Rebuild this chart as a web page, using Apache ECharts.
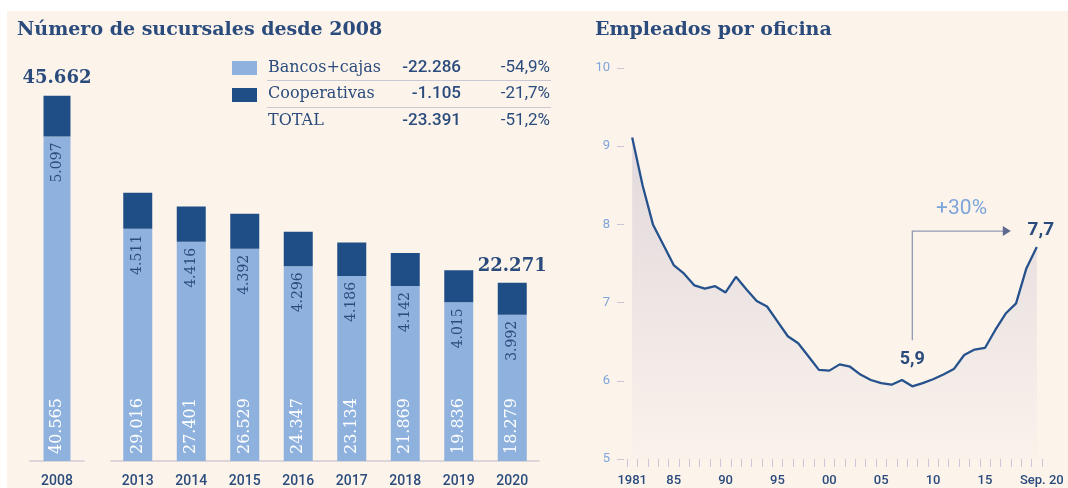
<!DOCTYPE html>
<html><head><meta charset="utf-8">
<script src="https://cdn.jsdelivr.net/npm/echarts@6/dist/echarts.min.js"></script>
<style>
html,body{margin:0;padding:0;background:#fff;width:1068px;height:488px;overflow:hidden}
#bg{position:absolute;left:7px;top:11px;right:0;bottom:0;background:#fcf4eb}
#c{position:absolute;left:0;top:0;width:1068px;height:488px}
</style></head><body><div id="bg"></div><div id="c"></div>
<script>
// ---- Data: branches (sucursales) ----
const branchYears = ['2008', '2013', '2014', '2015', '2016', '2017', '2018', '2019', '2020'];
const bancosCajas = [40565, 29016, 27401, 26529, 24347, 23134, 21869, 19836, 18279];
const cooperativas = [5097, 4511, 4416, 4392, 4296, 4186, 4142, 4015, 3992];
const totalShownYears = ['2008', '2020'];
const legendNames = ['Bancos+cajas', 'Cooperativas', 'TOTAL'];

// ---- Data: employees per office ----
const empYears = ['1981','1982','1983','1984','1985','1986','1987','1988','1989','1990',
  '1991','1992','1993','1994','1995','1996','1997','1998','1999','2000',
  '2001','2002','2003','2004','2005','2006','2007','2008','2009','2010',
  '2011','2012','2013','2014','2015','2016','2017','2018','2019','2020'];
const empleados = [9.11, 8.50, 8.00, 7.74, 7.48, 7.37, 7.22, 7.18, 7.21, 7.13,
  7.33, 7.17, 7.02, 6.95, 6.76, 6.57, 6.48, 6.31, 6.14, 6.13,
  6.21, 6.18, 6.08, 6.01, 5.97, 5.95, 6.01, 5.93, 5.97, 6.02,
  6.08, 6.15, 6.33, 6.40, 6.42, 6.65, 6.86, 6.99, 7.44, 7.71];
const empXLabels = {'1981':'1981','1985':'85','1990':'90','1995':'95','2000':'00','2005':'05','2010':'10','2015':'15','2020':'Sep. 20'};
const empYMin = 5, empYMax = 10, empYStep = 1;

// ---- helpers ----
const DARK = '#1f4e86', LIGHT = '#8fb1dd', TXT = '#2a4b7c', LTXT = '#7ea5da';
const fmtInt = n => (n < 0 ? '-' : '') + Math.abs(n).toString().replace(/\B(?=(\d{3})+(?!\d))/g, '.');
const fmtPct = x => (x * 100).toFixed(1).replace('.', ',') + '%';
const fmtDec = x => x.toFixed(1).replace('.', ',');

const totals = bancosCajas.map((b, i) => b + cooperativas[i]);
const n = branchYears.length;
const chgB = bancosCajas[n-1] - bancosCajas[0];
const chgC = cooperativas[n-1] - cooperativas[0];
const chgT = totals[n-1] - totals[0];
const legendChange = [fmtInt(chgB), fmtInt(chgC), fmtInt(chgT)];
const legendPct = [fmtPct(chgB / bancosCajas[0]), fmtPct(chgC / cooperativas[0]), fmtPct(chgT / totals[0])];

const serif = 'DejaVu Serif';
const sans = 'Roboto';

function barSeries(gi, idxs, bw) {
  return [
    { type: 'bar', xAxisIndex: gi, yAxisIndex: gi, stack: 's' + gi, barWidth: bw,
      data: idxs.map(i => bancosCajas[i]), itemStyle: { color: LIGHT },
      label: { show: true, position: 'insideBottom', rotate: 90, align: 'left', verticalAlign: 'middle',
        distance: 7, color: '#fff', fontFamily: serif, fontSize: 16, formatter: p => fmtInt(p.value) } },
    { type: 'bar', xAxisIndex: gi, yAxisIndex: gi, stack: 's' + gi, barWidth: bw,
      data: idxs.map(i => cooperativas[i]), itemStyle: { color: DARK },
      label: { show: true, position: 'bottom', rotate: 90, align: 'right', verticalAlign: 'middle',
        distance: 6, color: TXT, fontFamily: serif, fontSize: 14, formatter: p => fmtInt(p.value) } },
    { type: 'bar', xAxisIndex: gi, yAxisIndex: gi, stack: 's' + gi, barWidth: bw,
      data: idxs.map(i => totalShownYears.includes(branchYears[i]) ? 0 : null),
      itemStyle: { color: 'rgba(0,0,0,0)' },
      label: { show: true, position: 'top', distance: 8, color: TXT, fontFamily: serif, fontWeight: 'bold', fontSize: 18,
        formatter: p => p.value === null ? '' : fmtInt(totals[idxs[p.dataIndex]]) } }
  ];
}

const chart = echarts.init(document.getElementById('c'), null, { renderer: 'canvas' });
const catAxisLeft = (gi, cats) => ({
  type: 'category', gridIndex: gi, data: cats,
  axisLine: { show: true, lineStyle: { color: '#cfcad4', width: 1.5 } },
  axisTick: { show: false },
  axisLabel: { color: TXT, fontFamily: sans, fontWeight: 500, fontSize: 14, margin: 13 }
});
const valAxisLeft = gi => ({ type: 'value', gridIndex: gi, min: 0, max: 50000, show: false });

chart.setOption({
  animation: false,
  title: [
    { text: 'Número de sucursales desde 2008', left: 12, top: 16,
      textStyle: { color: TXT, fontFamily: serif, fontWeight: 'bold', fontSize: 19 } },
    { text: 'Empleados por oficina', left: 590, top: 16,
      textStyle: { color: TXT, fontFamily: serif, fontWeight: 'bold', fontSize: 19 } }
  ],
  grid: [
    { left: 30, width: 54, top: 61, height: 400 },
    { left: 111, width: 428, top: 61, height: 400 },
    { left: 627, width: 415, top: 68, height: 391 }
  ],
  xAxis: [
    catAxisLeft(0, branchYears.slice(0, 1)),
    catAxisLeft(1, branchYears.slice(1)),
    { type: 'category', gridIndex: 2, data: empYears, boundaryGap: true,
      axisLine: { show: false },
      axisTick: { show: true, interval: 0, length: 8, lineStyle: { color: '#c9c5d4', width: 1 } },
      axisLabel: { interval: 0, color: TXT, fontFamily: sans, fontWeight: 500, fontSize: 13, margin: 15,
        formatter: v => empXLabels[v] ? (v === '2020' ? '{s|' + empXLabels[v] + '}' : empXLabels[v]) : '',
        rich: { s: { color: TXT, fontFamily: sans, fontWeight: 500, fontSize: 13, padding: [0, 0, 0, 10] } } }
    }
  ],
  yAxis: [
    valAxisLeft(0), valAxisLeft(1),
    { type: 'value', gridIndex: 2, min: empYMin, max: empYMax, interval: empYStep, offset: 3,
      axisLine: { show: false }, splitLine: { show: false },
      axisTick: { show: true, length: 7, lineStyle: { color: '#c9c5d4' } },
      axisLabel: { color: LTXT, fontFamily: sans, fontSize: 13, margin: 14 } }
  ],
  series: [
    ...barSeries(0, [0], 27),
    ...barSeries(1, [1,2,3,4,5,6,7,8], 29),
    { type: 'line', xAxisIndex: 2, yAxisIndex: 2, data: empleados, symbol: 'none',
      lineStyle: { color: '#25528c', width: 2.3 },
      areaStyle: { origin: 'start', color: new echarts.graphic.LinearGradient(0, 0, 0, 1, [
        { offset: 0, color: '#d5ccd5' }, { offset: 1, color: '#f8f0ea' } ]) } }
  ]
});

// ---- Graphics: legend table + annotations ----
const g = [];
const rowY = [68, 94, 121];
g.push({ type: 'rect', shape: { x: 232, y: 61, width: 25, height: 14 }, style: { fill: LIGHT } });
g.push({ type: 'rect', shape: { x: 232, y: 88, width: 25, height: 14 }, style: { fill: DARK } });
legendNames.forEach((nm, i) => {
  g.push({ type: 'text', x: 268, y: rowY[i], style: { text: nm, fill: TXT, font: '16px "' + serif + '"', textVerticalAlign: 'middle', textAlign: 'left' } });
  g.push({ type: 'text', x: 461, y: rowY[i], style: { text: legendChange[i], fill: TXT, font: '500 17px ' + sans, textVerticalAlign: 'middle', textAlign: 'right' } });
  g.push({ type: 'text', x: 550, y: rowY[i], style: { text: legendPct[i], fill: TXT, font: '400 17px ' + sans, textVerticalAlign: 'middle', textAlign: 'right' } });
});
[80.5, 107.5].forEach(y => g.push({ type: 'line', shape: { x1: 267, y1: y, x2: 551, y2: y }, style: { stroke: '#cbc8d6', lineWidth: 1 } }));

const px = (i, v) => chart.convertToPixel({ gridIndex: 2 }, [i, v]);
let minIdx = 0; empleados.forEach((v, i) => { if (v < empleados[minIdx]) minIdx = i; });
const lastIdx = empleados.length - 1;
const pMin = px(minIdx, empleados[minIdx]);
const pLast = px(lastIdx, empleados[lastIdx]);
const lineY = pLast[1] - 16;
const tipX = pLast[0] - 26;
const annC = '#9298b3';
g.push({ type: 'polyline', shape: { points: [[pMin[0], pMin[1] - 46], [pMin[0], lineY], [tipX - 6, lineY]] }, style: { stroke: annC, lineWidth: 1.3, fill: null } });
g.push({ type: 'polygon', shape: { points: [[tipX, lineY], [tipX - 8, lineY - 5], [tipX - 8, lineY + 5]] }, style: { fill: '#5f6a92' } });
g.push({ type: 'text', x: (pMin[0] + tipX) / 2, y: lineY - 22, style: { text: '+' + Math.round((empleados[lastIdx] / empleados[minIdx] - 1) * 100) + '%', fill: LTXT, font: '400 21px ' + sans, textAlign: 'center', textVerticalAlign: 'middle' } });
g.push({ type: 'text', x: pLast[0] + 4, y: lineY - 1, style: { text: fmtDec(empleados[lastIdx]), fill: TXT, font: 'bold 19px ' + sans, textAlign: 'center', textVerticalAlign: 'middle' } });
g.push({ type: 'text', x: pMin[0], y: pMin[1] - 27, style: { text: fmtDec(empleados[minIdx]), fill: TXT, font: 'bold 18px ' + sans, textAlign: 'center', textVerticalAlign: 'middle' } });

chart.setOption({ graphic: g });
</script></body></html>
